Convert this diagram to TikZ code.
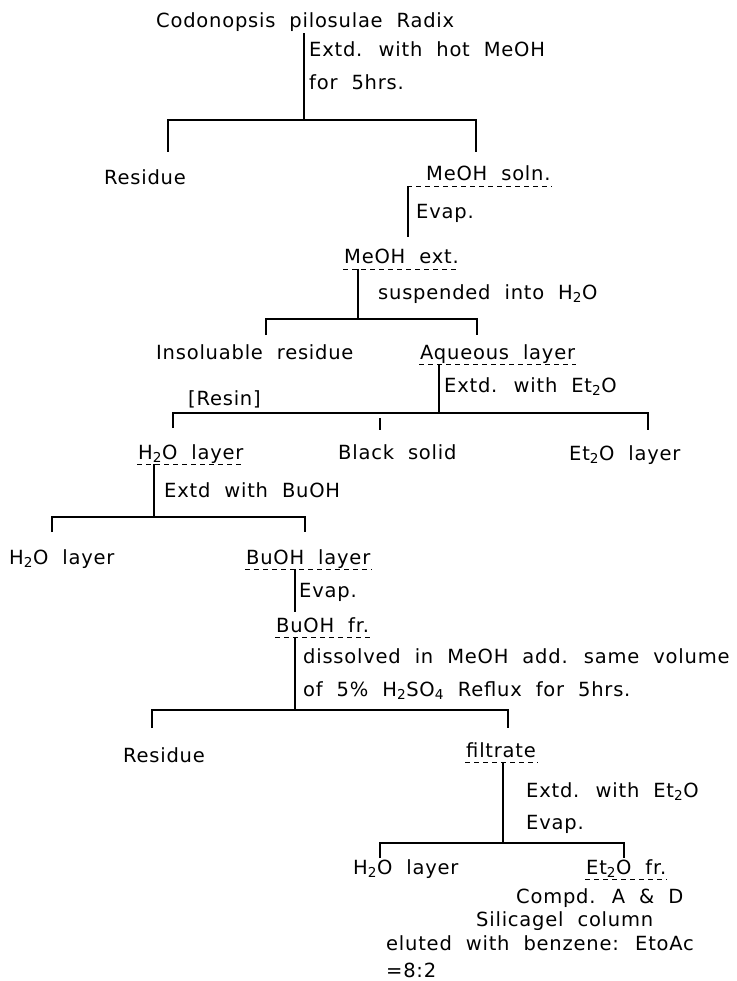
\documentclass[tikz,border=0pt]{standalone}
\usepackage{fontspec}
\setmainfont{DejaVu Sans}[WordSpace=2.0, LetterSpace=4]
\usetikzlibrary{positioning}
\tikzset{
  txt/.style={anchor=base west, inner sep=1pt, font=\fontsize{19.5}{21}\selectfont},
  ln/.style={line width=1.2pt},
  ul/.style={line width=0.8pt, dash pattern=on 5pt off 4pt},
}

\begin{document}
\begin{tikzpicture}
\useasboundingbox (0pt, 0pt) rectangle (736pt, -981pt);
\node (src) [txt] at (155.0pt, -28.0pt) {Codonopsis pilosulae Radix};
\node (op1a) [txt] at (308.0pt, -57.0pt) {Extd. with hot MeOH};
\node (op1b) [txt] at (308.0pt, -90.0pt) {for 5hrs.};
\node (res1) [txt] at (103.0pt, -185.0pt) {Residue};
\node (soln) [txt] at (425.0pt, -181.0pt) {MeOH soln.};
\node (op2) [txt] at (415.0pt, -219.0pt) {Evap.};
\node (ext) [txt] at (343.0pt, -264.0pt) {MeOH ext.};
\node (op3) [txt] at (377.0pt, -299.0pt) {suspended into H\textsubscript{2}O};
\node (insol) [txt] at (155.0pt, -359.0pt) {Insoluable residue};
\node (aq) [txt] at (419.0pt, -359.0pt) {Aqueous layer};
\node (op4) [txt] at (443.0pt, -392.0pt) {Extd. with Et\textsubscript{2}O};
\node (resin) [txt] at (187.0pt, -405.0pt) {[Resin]};
\node (h2oa) [txt] at (137.0pt, -459.0pt) {H\textsubscript{2}O layer};
\node (black) [txt] at (337.0pt, -459.0pt) {Black solid};
\node (et2oa) [txt] at (568.0pt, -460.0pt) {Et\textsubscript{2}O layer};
\node (op5) [txt] at (163.0pt, -497.0pt) {Extd with BuOH};
\node (h2ob) [txt] at (8.0pt, -564.0pt) {H\textsubscript{2}O layer};
\node (buoh) [txt] at (245.0pt, -564.0pt) {BuOH layer};
\node (op6) [txt] at (298.0pt, -597.0pt) {Evap.};
\node (bufr) [txt] at (275.0pt, -632.0pt) {BuOH fr.};
\node (op7a) [txt] at (302.0pt, -663.0pt) {dissolved in MeOH add. same volume};
\node (op7b) [txt] at (302.0pt, -696.0pt) {of 5\% H\textsubscript{2}SO\textsubscript{4} Reflux for 5hrs.};
\node (res2) [txt] at (122.0pt, -762.0pt) {Residue};
\node (filt) [txt] at (465.0pt, -757.0pt) {filtrate};
\node (op8a) [txt] at (525.0pt, -797.0pt) {Extd. with Et\textsubscript{2}O};
\node (op8b) [txt] at (525.0pt, -829.0pt) {Evap.};
\node (h2oc) [txt] at (352.0pt, -874.0pt) {H\textsubscript{2}O layer};
\node (etfr) [txt] at (585.0pt, -874.0pt) {Et\textsubscript{2}O fr.};
\node (cmpd) [txt] at (515.0pt, -903.0pt) {Compd. A \& D};
\node (silica) [txt] at (475.0pt, -926.0pt) {Silicagel column};
\node (elut) [txt] at (385.0pt, -950.0pt) {eluted with benzene: EtoAc};
\node (ratio) [txt] at (385.0pt, -977.0pt) {=8:2};
\coordinate (j1) at (304.0pt, -120.0pt);
\coordinate (v2) at (408.0pt, -237.0pt);
\coordinate (j3) at (358.0pt, -319.0pt);
\coordinate (j4) at (439.0pt, -413.0pt);
\coordinate (j5) at (154.0pt, -517.0pt);
\coordinate (v6) at (295.0pt, -612.0pt);
\coordinate (j7) at (295.0pt, -710.0pt);
\coordinate (j8) at (503.0pt, -843.0pt);
\draw [ln] (src.south -| j1) to (j1);
\draw [ln] (168.0pt, -152.0pt) -- (168.0pt, -120.0pt) -- (476.0pt, -120.0pt) -- (476.0pt, -152.0pt);
\draw [ln] ([yshift=-5pt]soln.base -| v2) to (v2);
\draw [ln] ([yshift=-5pt]ext.base -| j3) to (j3);
\draw [ln] (266.0pt, -335.0pt) -- (266.0pt, -319.0pt) -- (477.0pt, -319.0pt) -- (477.0pt, -335.0pt);
\draw [ln] ([yshift=-5pt]aq.base -| j4) to (j4);
\draw [ln] (173.0pt, -428.0pt) -- (173.0pt, -413.0pt) -- (648.0pt, -413.0pt) -- (648.0pt, -430.0pt);
\draw [ln] (380.0pt, -418.0pt) -- (380.0pt, -430.0pt);
\draw [ln] ([yshift=-5pt]h2oa.base -| j5) to (j5);
\draw [ln] (52.0pt, -532.0pt) -- (52.0pt, -517.0pt) -- (305.0pt, -517.0pt) -- (305.0pt, -532.0pt);
\draw [ln] ([yshift=-5pt]buoh.base -| v6) to (v6);
\draw [ln] ([yshift=-5pt]bufr.base -| j7) to (j7);
\draw [ln] (152.0pt, -728.0pt) -- (152.0pt, -710.0pt) -- (508.0pt, -710.0pt) -- (508.0pt, -728.0pt);
\draw [ln] ([yshift=-5pt]filt.base -| j8) to (j8);
\draw [ln] (380.0pt, -858.0pt) -- (380.0pt, -843.0pt) -- (624.0pt, -843.0pt) -- (624.0pt, -858.0pt);
\draw [ul] ([xshift=-18pt, yshift=-5pt]soln.base west) -- ([yshift=-5pt]soln.base east);
\draw [ul] ([yshift=-5pt]ext.base west) -- ([yshift=-5pt]ext.base east);
\draw [ul] ([yshift=-5pt]aq.base west) -- ([yshift=-5pt]aq.base east);
\draw [ul] ([yshift=-5pt]h2oa.base west) -- ([yshift=-5pt]h2oa.base east);
\draw [ul] ([yshift=-5pt]buoh.base west) -- ([yshift=-5pt]buoh.base east);
\draw [ul] ([yshift=-5pt]bufr.base west) -- ([yshift=-5pt]bufr.base east);
\draw [ul] ([yshift=-5pt]filt.base west) -- ([yshift=-5pt]filt.base east);
\draw [ul] ([yshift=-5pt]etfr.base west) -- ([yshift=-5pt]etfr.base east);
\end{tikzpicture}
\end{document}
